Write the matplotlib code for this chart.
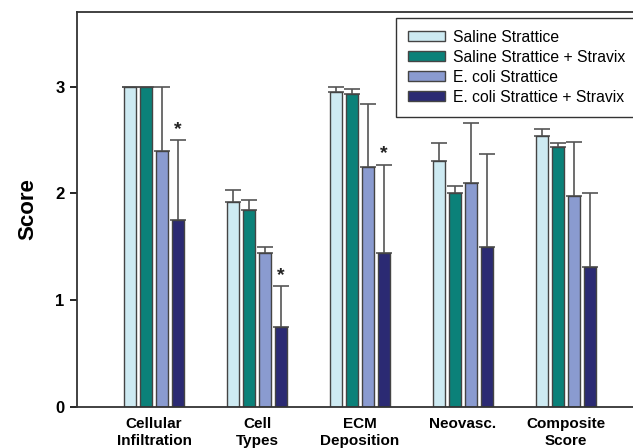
import numpy as np
import matplotlib
matplotlib.use("Agg")
import matplotlib.pyplot as plt

plt.rcParams['font.family'] = ['Liberation Sans', 'DejaVu Sans']

categories = ["Cellular\nInfiltration", "Cell\nTypes", "ECM\nDeposition", "Neovasc.", "Composite\nScore"]
series = ["Saline Strattice", "Saline Strattice + Stravix", "E. coli Strattice", "E. coli Strattice + Stravix"]
colors = ["#cdeaf2", "#0b8179", "#8a9bd0", "#2b2a73"]

# mean scores per series (one value per category)
means = [
    [3.00, 1.92, 2.95, 2.30, 2.54],
    [3.00, 1.85, 2.93, 2.00, 2.44],
    [2.40, 1.44, 2.25, 2.10, 1.98],
    [1.75, 0.75, 1.44, 1.50, 1.31],
]
# upper error (SD)
errors = [
    [0.00, 0.11, 0.05, 0.17, 0.06],
    [0.00, 0.09, 0.05, 0.07, 0.03],
    [0.60, 0.06, 0.59, 0.56, 0.50],
    [0.75, 0.38, 0.83, 0.87, 0.69],
]
# significance markers (series index, category index)
stars = [(3, 0), (3, 1), (3, 2)]

fig = plt.figure(figsize=(6.33, 4.48), dpi=100)
ax = fig.add_axes([77/633, 41/448, 570/633, 395/448])

x = np.arange(len(categories))
step = 0.155
width = 0.117
for i, name in enumerate(series):
    pos = x + (i - 1.5) * step
    ax.bar(pos, means[i], width, color=colors[i], edgecolor="#444444", linewidth=1.0,
           label=name, zorder=2)
    ax.errorbar(pos, means[i], yerr=[np.zeros(len(x)), errors[i]], fmt="none",
                ecolor="#555555", elinewidth=1.2, capsize=6, capthick=1.2, zorder=1)

for s, c in stars:
    top = means[s][c] + errors[s][c]
    ax.text(x[c] + (s - 1.5) * step, top + 0.02, "*", ha="center", va="bottom",
            fontsize=14, fontweight="bold", color="#222222")

ax.set_ylim(0, 3.7)
ax.set_xlim(-0.748, (647 - 154) / 103)
ax.set_yticks([0, 1, 2, 3])
ax.set_yticklabels(["0", "1", "2", "3"], fontsize=12, fontweight="bold")
ax.set_xticks(x)
ax.set_xticklabels(categories, fontsize=11, fontweight="bold", linespacing=1.3)
ax.tick_params(axis="x", length=0, pad=7)
ax.tick_params(axis="y", direction="out", length=5, width=1.2, pad=4)
ax.set_ylabel("Score", fontsize=16, fontweight="bold", labelpad=12)

for sp in ["left", "bottom", "top"]:
    ax.spines[sp].set_linewidth(1.3)
    ax.spines[sp].set_color("#333333")
ax.spines["right"].set_visible(False)

leg = ax.legend(loc="upper left", bbox_to_anchor=(396/633, 1 - 18/448),
                bbox_transform=fig.transFigure, fontsize=11.3, frameon=True,
                fancybox=False, edgecolor="#333333", framealpha=1,
                handlelength=2.35, handleheight=0.6, handletextpad=0.55,
                labelspacing=0.32, borderpad=0.75, borderaxespad=0)
leg.get_frame().set_linewidth(1.0)

fig.savefig("out.png", dpi=100)
